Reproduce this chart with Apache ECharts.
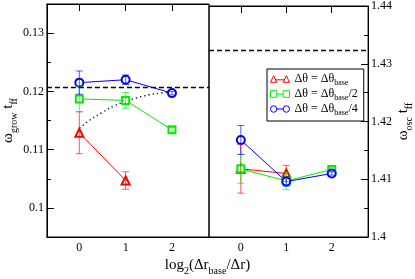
<!DOCTYPE html>
<html>
<head>
<meta charset="utf-8">
<script src="https://cdn.jsdelivr.net/npm/echarts@6/dist/echarts.min.js"></script>
<style>html,body{margin:0;padding:0;background:#fff}#c{width:415px;height:279px}</style>
</head>
<body>
<div id="c"></div>
<script>
// ---- data ----
const xTicks = [0, 1, 2];
const growTicks = [0.1, 0.11, 0.12, 0.13];
const growMinor = [0.105, 0.115, 0.125];
const oscTicks = [1.4, 1.41, 1.42, 1.43, 1.44];
const oscMinor = [1.405, 1.415, 1.425, 1.435];

const redX = [0, 1];
const grnX = [0, 1, 2];
const bluX = [0, 1, 2];

const growRed = [0.1129, 0.1047];
const growRedErr = [0.0036, 0.0015];
const growGrn = [0.1187, 0.11845, 0.1134];
const growGrnErr = [0.0022, 0.00135, 0.0004];
const growBlu = [0.1215, 0.1220, 0.1197];
const growBluErr = [0.0020, 0.0008, 0.0003];

const oscRed = [1.4118, 1.4110];
const oscRedErr = [0.0042, 0.0014];
const oscGrn = [1.4118, 1.4097, 1.4117];
const oscGrnErr = [0.0025, 0.0015, 0.0004];
const oscBlu = [1.4168, 1.4096, 1.4110];
const oscBluErr = [0.0025, 0.0008, 0.0003];

const fitX = [0, 0.25, 0.5, 0.75, 1, 1.25, 1.5, 1.75, 2];
const fitY = [0.1137, 0.1152, 0.1164, 0.1175, 0.1183, 0.1189, 0.1194, 0.1197, 0.1199];

const growRef = 0.12067;
const oscRef = 1.4324;

// ---- helpers ----
const FONT = 'Liberation Serif';
const RED = '#ff0000', GRN = '#00ee00', BLU = '#0000ff';
function pairs(xs, ys) { return xs.map((x, i) => [x, ys[i]]); }
function errs(xs, ys, es) { return xs.map((x, i) => [x, ys[i] - es[i], ys[i] + es[i]]); }
function errRender(params, api) {
  const x = api.value(0), lo = api.value(1), hi = api.value(2);
  const p1 = api.coord([x, hi]), p2 = api.coord([x, lo]);
  const w = 3.5;
  const style = { stroke: api.visual('color'), lineWidth: 1, opacity: 0.65 };
  return { type: 'group', children: [
    { type: 'line', shape: { x1: p1[0], y1: p1[1], x2: p2[0], y2: p2[1] }, style },
    { type: 'line', shape: { x1: p1[0] - w, y1: p1[1], x2: p1[0] + w, y2: p1[1] }, style },
    { type: 'line', shape: { x1: p2[0] - w, y1: p2[1], x2: p2[0] + w, y2: p2[1] }, style }
  ]};
}
function lineSeries(name, xi, data, color, symbol, size) {
  return {
    type: 'line', name: name, xAxisIndex: xi, yAxisIndex: xi === 0 ? 0 : 2,
    data: data, symbol: symbol, symbolSize: size, showSymbol: true,
    lineStyle: { color: color, width: 1 },
    itemStyle: { color: color, borderColor: color, borderWidth: 1 },
    emphasis: { disabled: true }, animation: false, z: 3
  };
}
function errSeries(xi, data, color) {
  return {
    type: 'custom', xAxisIndex: xi, yAxisIndex: xi === 0 ? 0 : 2,
    renderItem: errRender, data: data, itemStyle: { color: color },
    encode: { x: 0, y: [1, 2] }, animation: false, z: 4, silent: true
  };
}
function refLine(xi, value) {
  return {
    type: 'line', xAxisIndex: xi, yAxisIndex: xi === 0 ? 0 : 2, data: [],
    markLine: { silent: true, symbol: 'none', precision: 6, label: { show: false },
      lineStyle: { color: '#000', type: [5, 3], width: 1.3 }, data: [{ yAxis: value }] },
    animation: false
  };
}
function xAx(grid, pos, labels) {
  return {
    type: 'value', gridIndex: grid, position: pos, min: -0.7, max: 2.8,
    axisLine: { show: true, onZero: false, lineStyle: { color: '#000', width: 1 } },
    axisTick: { show: !labels, inside: true, length: 7, customValues: xTicks, lineStyle: { color: '#000' } },
    axisLabel: { show: labels, customValues: xTicks, margin: 5, fontFamily: FONT, fontSize: 12, color: '#000' },
    splitLine: { show: false }
  };
}
function yAx(grid, pos, min, max, ticks, minor, name, gap) {
  const major = {
    type: 'value', gridIndex: grid, position: pos, min: min, max: max,
    axisLine: { show: true, onZero: false, lineStyle: { color: '#000' } },
    axisTick: { show: true, inside: true, length: 7, customValues: ticks, lineStyle: { color: '#000' } },
    axisLabel: { show: true, customValues: ticks, margin: 3, fontFamily: FONT, fontSize: 12, color: '#000' },
    splitLine: { show: false },
    name: name, nameLocation: 'middle', nameRotate: 90, nameGap: gap,
    nameTextStyle: { rich: richName, fontWeight: 'normal' }
  };
  const mnr = {
    type: 'value', gridIndex: grid, position: pos, min: min, max: max,
    axisLine: { show: false, onZero: false },
    axisTick: { show: true, inside: true, length: 4, customValues: minor, lineStyle: { color: '#000' } },
    axisLabel: { show: false }, splitLine: { show: false }
  };
  return [major, mnr];
}
const richName = {
  m: { fontFamily: FONT, fontSize: 15, fontWeight: 'normal', color: '#000', lineHeight: 15, verticalAlign: 'top' },
  s: { fontFamily: FONT, fontSize: 10, fontWeight: 'normal', color: '#000', lineHeight: 10, padding: [8, 0, 0, 0], verticalAlign: 'top' }
};
const legendIcons = {
  tri: 'path://M0,8 L4,0 L8,8 Z M6.5,5 L17.5,5 M16,8 L20,0 L24,8 Z',
  sq: 'path://M0,0 L8,0 L8,8 L0,8 Z M8,4 L16,4 M16,0 L24,0 L24,8 L16,8 Z',
  ci: 'path://M0,4 A4,4 0 1 0 8,4 A4,4 0 1 0 0,4 Z M8,4 L16,4 M16,4 A4,4 0 1 0 24,4 A4,4 0 1 0 16,4 Z'
};
const legendText = { a: '{a|Δθ = Δθ}{s|base}', b: '{a|Δθ = Δθ}{s|base}{a|/2}', c: '{a|Δθ = Δθ}{s|base}{a|/4}' };

const chart = echarts.init(document.getElementById('c'), null, { renderer: 'canvas' });
chart.setOption({
  animation: false,
  backgroundColor: '#fff',
  grid: [
    { left: 43, top: 4, width: 166, height: 233, show: true, borderColor: '#000', borderWidth: 1, backgroundColor: 'transparent' },
    { left: 209, top: 4, width: 167, height: 233, show: true, borderColor: '#000', borderWidth: 1, backgroundColor: 'transparent' }
  ],
  xAxis: [xAx(0, 'bottom', true), xAx(0, 'top', false), xAx(1, 'bottom', true), xAx(1, 'top', false)],
  yAxis: [].concat(
    yAx(0, 'left', 0.095, 0.135, growTicks, growMinor, '{m|ω}{s|grow}{m| t}{s|ff}', 27),
    yAx(1, 'right', 1.4, 1.44, oscTicks, oscMinor, '{m|ω}{s|osc}{m| t}{s|ff}', 24)
  ),
  title: {
    left: 'center', top: 258, padding: 0,
    text: '{m|log}{s|2}{m|(Δr}{s|base}{m|/Δr)}',
    textStyle: { rich: richName, fontWeight: 'normal' }
  },
  legend: {
    orient: 'vertical', left: 267, top: 69,
    padding: [4, 6, 4, 3], itemGap: 1, itemWidth: 19, itemHeight: 6.5, itemTextGap: 4,
    symbolKeepAspect: false,
    backgroundColor: '#fff', borderColor: '#000', borderWidth: 1, borderRadius: 0,
    selectedMode: false,
    data: [
      { name: 'a', icon: legendIcons.tri, itemStyle: { color: 'rgba(0,0,0,0)', borderColor: RED, borderWidth: 1 } },
      { name: 'b', icon: legendIcons.sq, itemStyle: { color: 'rgba(0,0,0,0)', borderColor: GRN, borderWidth: 1 } },
      { name: 'c', icon: legendIcons.ci, itemStyle: { color: 'rgba(0,0,0,0)', borderColor: BLU, borderWidth: 1 } }
    ],
    formatter: function (n) { return legendText[n]; },
    textStyle: { rich: {
      a: { fontFamily: FONT, fontSize: 12, color: '#000', lineHeight: 12, verticalAlign: 'top' },
      s: { fontFamily: FONT, fontSize: 8, color: '#000', lineHeight: 8, padding: [6, 0, 0, 0], verticalAlign: 'top' }
    } }
  },
  series: [
    refLine(0, growRef),
    refLine(2, oscRef),
    {
      type: 'line', xAxisIndex: 0, yAxisIndex: 0, data: pairs(fitX, fitY), smooth: true,
      symbol: 'none', lineStyle: { color: '#000', width: 1.3, type: [1.3, 3] }, animation: false, z: 2
    },
    errSeries(0, errs(redX, growRed, growRedErr), RED),
    lineSeries('a', 0, pairs(redX, growRed), RED, 'emptyTriangle', 8),
    errSeries(0, errs(grnX, growGrn, growGrnErr), GRN),
    lineSeries('b', 0, pairs(grnX, growGrn), GRN, 'emptyRect', 7),
    errSeries(0, errs(bluX, growBlu, growBluErr), BLU),
    lineSeries('c', 0, pairs(bluX, growBlu), BLU, 'emptyCircle', 8),
    errSeries(2, errs(redX, oscRed, oscRedErr), RED),
    lineSeries('a', 2, pairs(redX, oscRed), RED, 'emptyTriangle', 8),
    errSeries(2, errs(grnX, oscGrn, oscGrnErr), GRN),
    lineSeries('b', 2, pairs(grnX, oscGrn), GRN, 'emptyRect', 7),
    errSeries(2, errs(bluX, oscBlu, oscBluErr), BLU),
    lineSeries('c', 2, pairs(bluX, oscBlu), BLU, 'emptyCircle', 8)
  ]
});
</script>
</body>
</html>
